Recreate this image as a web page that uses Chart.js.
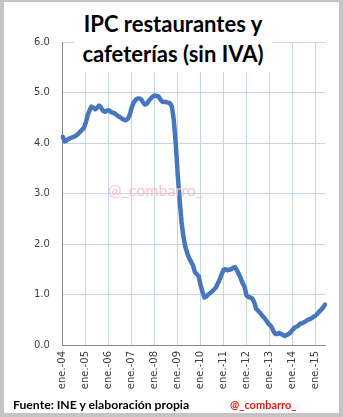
<!DOCTYPE html>
<html lang="es">
<head>
    <meta charset="UTF-8">
    <title>IPC restaurantes y cafeterías</title>
    <style>
        body {
            margin: 0;
            padding: 0;
            width: 343px;
            height: 417px;
            overflow: hidden;
            background: #fff;
            font-family: 'Lato', 'DejaVu Sans', sans-serif;
        }

        /* outer frame like the original picture */
        .frame {
            position: absolute;
            left: 0; top: 0;
            width: 343px; height: 417px;
            box-sizing: border-box;
            border-style: solid;
            border-color: #c4c4c4;
            border-width: 2px 4px 4px 4px;
            pointer-events: none;
            z-index: 5;
        }

        .chart-box {
            position: absolute;
            left: 0; top: 0;
            width: 343px; height: 417px;
        }

        .title {
            position: absolute;
            left: 74px; top: 9px;
            width: 198px; height: 63px;
            background: #fff;
            text-align: center;
            font-weight: bold;
            font-size: 22px;
            line-height: 30px;
            color: #000;
            z-index: 3;
        }

        .mark {
            position: absolute;
            left: 108px; top: 180px;
            font-size: 16px;
            color: #f6c3c9;
            z-index: 3;
        }

        .source {
            position: absolute;
            left: 13px; top: 397px;
            font-size: 12.2px;
            font-weight: bold;
            color: #000;
        }

        .handle {
            position: absolute;
            left: 230px; top: 398px;
            font-size: 11px;
            font-weight: bold;
            color: #e01b1b;
        }
    </style>
</head>
<body>
    <div class="chart-box"><canvas id="chart"></canvas></div>
    <div class="title">IPC restaurantes y<br>cafeterías (sin IVA)</div>
    <div class="mark">@_combarro_</div>
    <div class="source">Fuente: INE y elaboración propia</div>
    <div class="handle">@_combarro_</div>
    <div class="frame"></div>

    <script src="https://cdn.jsdelivr.net/npm/chart.js@4"></script>
    <script>
        // months and years of the series (jan 2004 - jun 2015)
        const monthNames = ['ene.', 'feb.', 'mar.', 'abr.', 'may.', 'jun.',
                            'jul.', 'ago.', 'sep.', 'oct.', 'nov.', 'dic.'];
        const years = ['04', '05', '06', '07', '08', '09', '10', '11', '12', '13', '14', '15'];

        // yearly % change of the CPI
        const ipc = [
            4.12, 4.03, 4.05, 4.08, 4.10, 4.11, 4.13, 4.15, 4.18, 4.22, 4.26, 4.30, // 2004
            4.40, 4.55, 4.65, 4.72, 4.70, 4.67, 4.70, 4.74, 4.70, 4.64, 4.62, 4.64, // 2005
            4.65, 4.62, 4.60, 4.59, 4.56, 4.53, 4.51, 4.48, 4.46, 4.45, 4.48, 4.56, // 2006
            4.70, 4.80, 4.85, 4.88, 4.88, 4.86, 4.80, 4.76, 4.78, 4.84, 4.88, 4.92, // 2007
            4.94, 4.93, 4.92, 4.86, 4.82, 4.81, 4.81, 4.80, 4.79, 4.72, 4.45, 4.00, // 2008
            3.40, 2.90, 2.45, 2.15, 1.95, 1.82, 1.72, 1.65, 1.58, 1.45, 1.40, 1.36, // 2009
            1.18, 1.05, 0.94, 0.96, 1.00, 1.03, 1.06, 1.10, 1.14, 1.22, 1.30, 1.40, // 2010
            1.49, 1.50, 1.48, 1.49, 1.50, 1.53, 1.54, 1.48, 1.40, 1.32, 1.22, 1.15, // 2011
            0.98, 0.95, 0.94, 0.92, 0.85, 0.72, 0.68, 0.64, 0.59, 0.55, 0.50, 0.45, // 2012
            0.40, 0.36, 0.28, 0.22, 0.22, 0.24, 0.22, 0.20, 0.18, 0.20, 0.22, 0.25, // 2013
            0.30, 0.34, 0.36, 0.38, 0.42, 0.43, 0.45, 0.47, 0.50, 0.51, 0.53, 0.56, // 2014
            0.58, 0.62, 0.66, 0.70, 0.74, 0.80                                      // 2015
        ];

        // one label per month, e.g. "ene.-04"
        const labels = [];
        years.forEach(y => monthNames.forEach(m => labels.push(m + '-' + y)));
        labels.length = ipc.length;

        const gridColor = '#c6d4ea';
        const axisColor = '#8a8a8a';

        Chart.defaults.font.family = "'DejaVu Sans', sans-serif";
        Chart.defaults.font.size = 10;
        Chart.defaults.color = '#404040';

        new Chart(document.getElementById('chart'), {
            type: 'line',
            data: {
                labels: labels,
                datasets: [{
                    data: ipc,
                    borderColor: '#4677bd',
                    borderWidth: 4.5,
                    borderJoinStyle: 'round',
                    borderCapStyle: 'round',
                    pointRadius: 0,
                    tension: 0,
                    fill: false
                }]
            },
            options: {
                responsive: true,
                maintainAspectRatio: false,
                animation: false,
                layout: { padding: { left: 0, right: 14, top: 42, bottom: 24 } },
                plugins: {
                    legend: { display: false },
                    tooltip: { enabled: false }
                },
                scales: {
                    x: {
                        offset: false,
                        afterFit: s => { s.height = 48; },
                        border: { color: axisColor, width: 1 },
                        grid: {
                            drawTicks: false,
                            color: c => (c.index % 12 === 0 && c.index > 0) ? gridColor : 'transparent'
                        },
                        ticks: {
                            autoSkip: false,
                            maxRotation: 90,
                            minRotation: 90,
                            padding: 6,
                            callback: (v, i) => i % 12 === 0 ? labels[i] : ''
                        }
                    },
                    y: {
                        min: 0,
                        max: 6,
                        afterFit: s => { s.width = 62.8; },
                        border: { color: axisColor, width: 1 },
                        grid: { drawTicks: false, color: gridColor },
                        ticks: {
                            stepSize: 1,
                            padding: 13,
                            callback: v => v.toFixed(1)
                        }
                    }
                }
            }
        });
    </script>
</body>
</html>
